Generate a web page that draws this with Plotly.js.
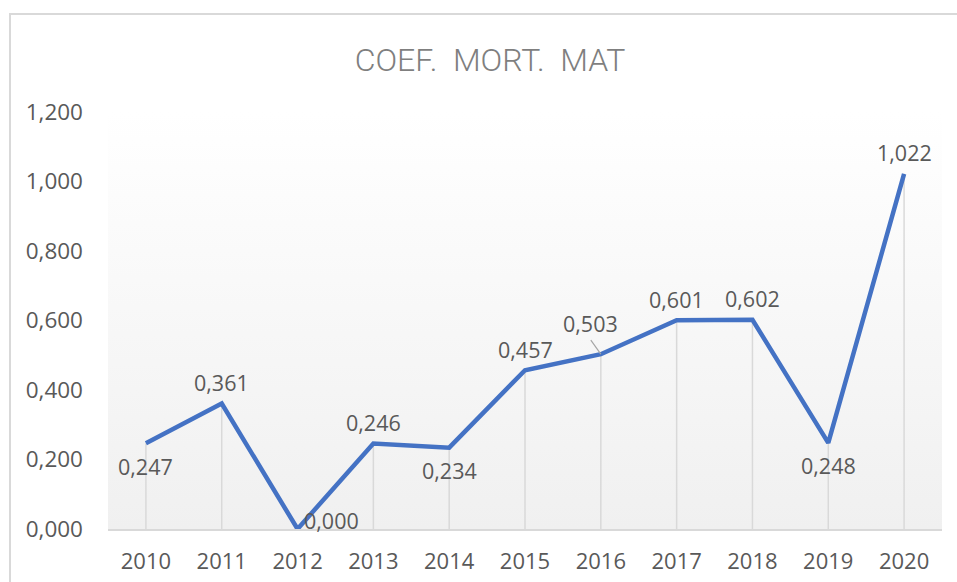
<!DOCTYPE html>
<html>
<head>
<meta charset="utf-8">
<script src="https://cdn.plot.ly/plotly-3.0.1.min.js"></script>
<style>
  html, body { margin: 0; padding: 0; background: #ffffff; }
  #wrap { position: relative; width: 957px; height: 582px; overflow: hidden; }
  #chart { position: absolute; left: 0; top: 0; width: 957px; height: 582px; }
  #frame { position: absolute; left: 9px; top: 13px; width: 1000px; height: 1000px;
           border-left: 2px solid #d9d9d9; border-top: 2px solid #d9d9d9; pointer-events: none; }
</style>
</head>
<body>
<div id="wrap">
  <div id="chart"></div>
  <div id="frame"></div>
</div>
<script>
// ---- data ----
const years = ['2010','2011','2012','2013','2014','2015','2016','2017','2018','2019','2020'];
const values = [0.247, 0.361, 0.000, 0.246, 0.234, 0.457, 0.503, 0.601, 0.602, 0.248, 1.022];
const labelPos = ['below','above','right','above','below','above','leader','above','above','below','above'];
const yTicks = [0, 0.2, 0.4, 0.6, 0.8, 1.0, 1.2];

const fmt = v => v.toFixed(3).replace('.', ',');
const grey = '#595959';
const labelFont = {family: 'Open Sans, Noto Sans, sans-serif', size: 21.5, color: grey};

// drop lines from each point down to the axis
const dropTrace = {
  x: years, y: values, type: 'scatter', mode: 'markers',
  marker: {size: 1, opacity: 0},
  error_y: {type: 'data', symmetric: false, array: values.map(() => 0), arrayminus: values,
            width: 0, thickness: 1.5, color: '#d9d9d9'},
  hoverinfo: 'skip', showlegend: false
};
const lineTrace = {
  x: years, y: values, type: 'scatter', mode: 'lines',
  line: {color: '#4472C4', width: 4.5},
  showlegend: false
};

// category axis: annotation x given as category index
const annotations = years.map((yr, i) => {
  const p = labelPos[i];
  const a = {x: i, y: values[i], xref: 'x', yref: 'y', text: fmt(values[i]),
             showarrow: false, font: labelFont};
  if (p === 'above') { a.yshift = 21; }
  else if (p === 'below') { a.yshift = -23; }
  else if (p === 'right') { a.xanchor = 'left'; a.xshift = 4; a.yshift = 9; }
  else if (p === 'leader') {
    a.showarrow = true; a.arrowhead = 0; a.arrowwidth = 1.2; a.arrowcolor = '#a6a6a6';
    a.ax = -10; a.ay = -14; a.standoff = 0; a.yanchor = 'bottom'; a.xanchor = 'center';
  }
  return a;
});

const gradSvg = "<svg xmlns='http://www.w3.org/2000/svg' width='10' height='100' preserveAspectRatio='none'>" +
  "<defs><linearGradient id='g' x1='0' y1='0' x2='0' y2='1'>" +
  "<stop offset='0' stop-color='#ffffff'/><stop offset='1' stop-color='#f0f0f0'/></linearGradient></defs>" +
  "<rect width='10' height='100' fill='url(#g)'/></svg>";

const layout = {
  width: 957, height: 582,
  margin: {l: 108, r: 15, t: 112, b: 53, pad: 0},
  paper_bgcolor: 'rgba(0,0,0,0)',
  plot_bgcolor: 'rgba(0,0,0,0)',
  separators: ',.',
  title: {text: 'COEF.  MORT.  MAT', x: 0.512, xanchor: 'center', y: 0.897, yanchor: 'middle',
          font: {family: 'Roboto, Open Sans, sans-serif', weight: 300, size: 32, color: '#7f7f7f'}},
  xaxis: {
    type: 'category', range: [-0.5, 10.5], showgrid: false, zeroline: false,
    showline: true, linecolor: '#d9d9d9', linewidth: 2,
    ticks: '', ticklabelstandoff: 12,
    tickfont: {family: 'Open Sans, Noto Sans, sans-serif', size: 22, color: grey},
    fixedrange: true
  },
  yaxis: {
    range: [0, 1.2], tickvals: yTicks, tickformat: '.3f', showgrid: false, zeroline: false,
    showline: false, ticks: '', ticklabelstandoff: 24,
    tickfont: {family: 'Open Sans, Noto Sans, sans-serif', size: 22.5, color: grey},
    fixedrange: true
  },
  images: [{
    source: 'data:image/svg+xml;utf8,' + encodeURIComponent(gradSvg),
    xref: 'paper', yref: 'paper', x: 0, y: 1, sizex: 1, sizey: 1,
    sizing: 'stretch', layer: 'below', xanchor: 'left', yanchor: 'top'
  }],
  annotations: annotations
};

Plotly.newPlot('chart', [dropTrace, lineTrace], layout, {displayModeBar: false, staticPlot: true});
</script>
</body>
</html>
